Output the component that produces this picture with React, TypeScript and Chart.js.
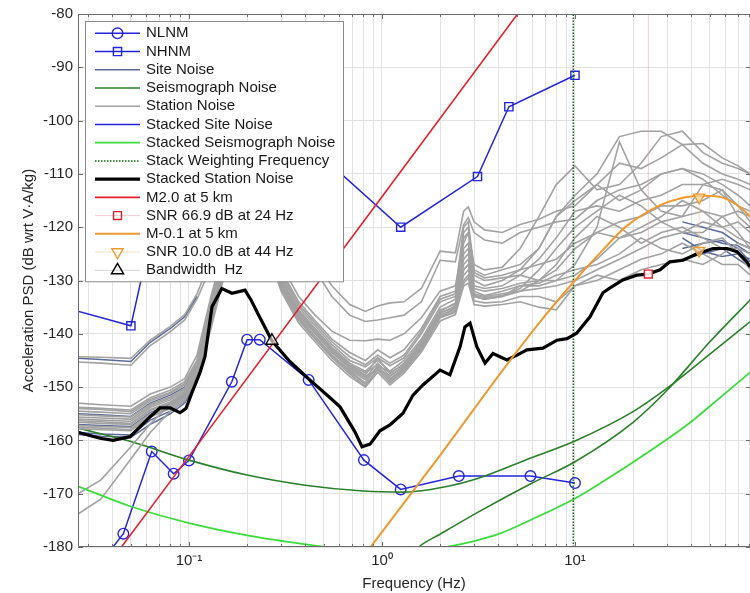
import React, { useEffect, useRef } from 'react';
import { Chart, registerables } from 'chart.js';

Chart.register(...registerables);

const FONT = "'Liberation Sans', Arial, Helvetica, sans-serif";

// ---------------- axis ----------------
const X_MIN = 0.0266;
const X_MAX = 80.7;
const Y_MIN = -180;
const Y_MAX = -80;
const Y_TICKS = [-180, -170, -160, -150, -140, -130, -120, -110, -100, -90, -80];
const X_LABEL_VALUES = [0.1, 1, 10];
const X_LABEL_TEXT = ['10\u207B\u00B9', '10\u2070', '10\u00B9'];

// ---------------- reference models ----------------
const NLNM_FREQ = [10, 5.88, 2.5, 1.25, 0.806, 0.417, 0.2326, 0.2, 0.1667, 0.1, 0.0833, 0.0641, 0.0457, 0.0316];
const NLNM_PSD = [-168.0, -166.7, -166.7, -169.2, -163.7, -148.65, -141.1, -141.1, -149.0, -163.75, -166.25, -162.1, -177.5, -185.0];
const NHNM_FREQ = [10, 4.545, 3.125, 1.25, 0.263, 0.217, 0.159, 0.127, 0.0649, 0.05, 0.00282];
const NHNM_PSD = [-91.5, -97.4, -110.5, -120.0, -98.0, -96.5, -101.0, -113.5, -120.0, -138.5, -126.0];

// ---------------- station noise (grey) ----------------
const STN_FREQ = [0.0266, 0.035, 0.05, 0.063, 0.08, 0.095, 0.11, 0.13, 0.16, 0.2, 0.25, 0.3, 0.37, 0.45, 0.55, 0.68, 0.82, 0.95, 1.1, 1.3, 1.6, 2.0, 2.4, 2.65, 2.8, 3.0, 3.4, 4.2, 5.2, 6.5, 8.0, 10, 13, 17, 22, 28, 36, 46, 58, 70, 81];
const STN_A1 = [-144.3, -144.4, -144.6, -141.2, -138.6, -136.4, -132.5, -126, -117, -111, -114, -119, -123, -126.5, -131, -134.5, -135.8, -134.8, -134.2, -134.0, -131.5, -124.5, -124.8, -117, -116.2, -119, -120.5, -121, -119.5, -118.5, -117, -116, -112, -108, -109, -107, -104.5, -104.3, -107, -108.5, -110];
const STN_A2 = [-145.3, -145.5, -145.9, -142.2, -139.6, -137.4, -133.5, -127.5, -119, -113, -116, -121, -125, -128, -133, -136.5, -137.7, -137.4, -137, -136.5, -134, -126.2, -126.5, -119.5, -118.2, -121, -122.4, -123, -121, -120, -119, -118.5, -115, -113, -112, -110, -109, -110, -112, -114, -116];
const STN_B1 = [-153.0, -153.3, -153.6, -151.3, -150.0, -148.4, -144, -133, -121, -114, -118, -127, -133, -136.5, -139.5, -141.2, -141.3, -141, -141.2, -140, -137, -132, -131, -123, -121, -127, -128, -127.5, -124, -118, -112, -108.5, -113, -112, -108, -103, -102, -106, -108, -109, -110];
const STN_B2 = [-153.8, -154.0, -154.3, -152.0, -150.6, -149.0, -145, -134, -122, -115, -119, -128, -134, -137.5, -141, -143.5, -145, -143, -144.5, -143, -139, -133, -132, -120, -119, -128, -129, -128, -127, -124, -118, -114, -110, -103, -102, -102, -104.5, -108, -110, -111, -112];
const STN_B3 = [-154.5, -154.7, -155.0, -152.6, -151.2, -149.6, -145.5, -135, -122.5, -116, -120, -129, -135, -138.5, -142, -145, -146.2, -144.5, -146, -144.5, -140, -134, -133, -122, -121, -129, -130, -129.5, -129, -130, -130, -127, -120, -104, -113, -117, -118, -112, -113, -118, -120];
const STN_B4 = [-155.2, -155.4, -155.6, -153.2, -151.8, -150.2, -146, -136, -123, -116.5, -120.5, -129.5, -135.5, -139, -142.5, -145.5, -147, -145, -147, -145, -141, -135, -133.5, -124, -123, -130, -131, -130, -128, -124, -118, -115, -112, -115, -113, -110, -109, -111, -114, -116, -117];
const STN_B5 = [-156.0, -156.2, -156.4, -153.8, -152.4, -150.8, -146.5, -137, -124, -117, -121, -130, -136, -139.5, -143, -146, -147.7, -144.5, -147.5, -145.5, -141.5, -135.5, -134.5, -125, -124, -131, -131.5, -131, -129, -126, -122, -117, -116, -117, -115, -114, -112, -112, -111, -112, -113];
const STN_B6 = [-156.6, -156.8, -157.0, -154.4, -153.0, -151.3, -147, -137.5, -124.5, -117.5, -122, -130.5, -136.5, -140, -143.5, -146.5, -148.3, -145.5, -148, -146, -142, -136, -135, -126, -125, -131.5, -132, -131.5, -130.5, -130, -128, -124, -121, -119, -118, -116, -116, -115, -113, -116, -119];
const STN_B7 = [-157.2, -157.4, -157.6, -155.0, -153.5, -151.8, -147.5, -138, -125, -118, -122.5, -131, -137, -140.5, -144, -147, -149.2, -146, -148.7, -146.5, -142.5, -136.5, -135.5, -127, -126, -132, -132.8, -132, -131, -131, -130, -129, -126, -122, -121, -119, -118, -117, -118, -121, -124];
const STN_B8 = [-157.8, -158.0, -158.2, -155.6, -154.0, -152.3, -148, -138.5, -125.5, -118.5, -123, -131.5, -137.5, -141, -144.5, -147.5, -149.9, -146.5, -149.2, -147, -143, -137, -136, -128, -127, -133, -133.5, -133, -132, -130, -127, -122, -118, -120, -123, -121, -120, -122, -124, -124, -125];
const STN_B9 = [-156.3, -156.5, -156.8, -154.2, -152.8, -151.0, -146.8, -137, -124, -117, -121.5, -130, -136, -139.8, -143.3, -146.3, -148.0, -146.8, -147.8, -146.2, -141.8, -136.2, -134.8, -129, -128, -132.5, -133, -132.5, -132, -131.5, -131, -130, -128, -126, -124, -122, -121, -119, -120, -122, -123];
const STN_B10 = [-155.6, -155.8, -156.0, -153.5, -152.1, -150.5, -146.2, -136.5, -123.5, -116.8, -121, -129.8, -135.8, -139.2, -142.8, -145.8, -147.3, -145.8, -147.3, -145.8, -141.3, -135.8, -134.2, -130, -129, -133, -133.5, -133, -131, -130.5, -129, -128, -127, -125, -122, -124, -125, -123, -122, -125, -128];
const STN_B11 = [-154.0, -154.2, -154.6, -152.3, -151.0, -149.3, -145.2, -134.5, -122, -115.5, -119.5, -128.5, -134.5, -138, -141.5, -144.3, -145.8, -144.0, -145.5, -144, -139.5, -133.5, -132.5, -121, -120, -128.5, -129.5, -129, -128, -127, -126, -123, -121, -122, -120, -118, -115, -117, -120, -119, -121];
const STN_B12 = [-157.5, -157.7, -158.0, -155.3, -153.8, -152.0, -147.7, -138.2, -125.2, -118.2, -122.8, -131.2, -137.2, -140.8, -144.2, -147.2, -149.5, -146.8, -149.0, -146.8, -142.8, -136.8, -135.8, -130.5, -129.5, -133.8, -134.2, -134, -133, -133, -134, -131, -130, -128, -126, -125, -123, -125, -127, -127, -129];
const STN_C1 = [-170.0, -167.4, -161.2, -156.9, -153.2, -151.4, -147.2, -137.8, -124.8, -118, -122.5, -131, -136.8, -140.5, -144, -146.8, -148.6, -146.2, -148.4, -146.4, -142.2, -136.6, -135.2, -128, -127, -132.8, -133.2, -132.8, -131.5, -128, -124, -120, -117, -114, -116, -119, -121, -121, -118, -117, -118];
const STN_C2 = [-173.8, -171.0, -163.5, -158.5, -154.5, -152.6, -148.2, -139, -126, -119, -123.5, -132, -138, -141.5, -145, -148, -150.0, -147.2, -149.6, -147.4, -143.4, -137.6, -136.4, -131, -130.5, -134.5, -134.8, -134.5, -134, -135, -135.5, -131, -129, -130, -128, -127, -126, -127, -125, -123, -124];
const STATION_NOISE = [STN_A1, STN_A2, STN_B1, STN_B2, STN_B3, STN_B4, STN_B5, STN_B6, STN_B7, STN_B8, STN_B9, STN_B10, STN_B11, STN_B12, STN_C1, STN_C2];

// ---------------- site noise (visible only where it departs from station noise) ----------------
const SITE_FREQ_LOW = [0.0266, 0.035, 0.05, 0.063, 0.08, 0.095, 0.11];
const SITE_FREQ_HIGH = [36, 46, 58, 70, 81];
const SITE_LOW = [
  [-144.6, -144.8, -145.2, -141.6, -139.0, -136.8, -133.0],
  [-155.0, -155.2, -155.5, -153.0, -151.5, -150.0, -146.0],
  [-157.0, -157.2, -157.4, -154.8, -153.2, -151.5, -147.3],
  [-158.5, -158.8, -159.0, -156.2, -154.5, -152.6, -148.4],
  [-158.9, -159.2, -159.4, -157.0, -155.0, -153.0, -149.0],
];
const SITE_HIGH = [
  [-121, -122, -123, -123.5, -125],
  [-124, -123, -122.5, -124, -126.5],
  [-119, -120, -121, -123, -124],
  [-122, -124.5, -125.5, -125, -126],
  [-126, -125, -124, -126, -127.5],
];

// ---------------- seismograph noise ----------------
const SEIS1_FREQ = [0.0266, 0.05, 0.1, 0.2, 0.4, 0.8, 1.3, 2.2, 3.1, 6, 10, 20, 30, 50, 81];
const SEIS1_PSD = [-157.7, -160.2, -163.7, -166.5, -168.4, -169.5, -169.7, -168.6, -167.2, -163.2, -160.1, -154.6, -150.2, -143.8, -137.7];
const SEIS2_FREQ = [1.3, 1.55, 2, 3.1, 6, 10, 20, 30, 50, 81];
const SEIS2_PSD = [-183.0, -180.0, -177.6, -173.6, -168.0, -164.0, -156.6, -150.6, -141.5, -133.6];
const STACK_SEIS_FREQ = [0.0266, 0.05, 0.1, 0.2, 0.37, 0.7, 1.2, 2.17, 3, 4, 6, 10, 15, 20, 30, 40, 50, 65, 81];
const STACK_SEIS_PSD = [-168.6, -172.4, -175.5, -177.8, -179.3, -180.6, -181.4, -180.0, -178.9, -177.6, -174.8, -170.9, -167.0, -164.1, -159.8, -156.5, -153.6, -150.1, -147.2];

// ---------------- stacked station noise ----------------
const STACK_FREQ = [0.0266, 0.0346, 0.0404, 0.0495, 0.0628, 0.0708, 0.0798, 0.0898, 0.0965, 0.1037, 0.114, 0.121, 0.1316, 0.148, 0.167, 0.195, 0.21, 0.228, 0.269, 0.333, 0.424, 0.538, 0.606, 0.724, 0.788, 0.867, 0.976, 1.10, 1.285, 1.448, 1.63, 2.0, 2.25, 2.54, 2.69, 2.86, 3.10, 3.42, 3.76, 4.44, 5.0, 5.64, 6.82, 8.07, 9.09, 10.2, 11.96, 13.96, 15.2, 17.7, 20.9, 23.9, 27.6, 31.0, 36.3, 42.9, 51.9, 61.4, 69.1, 77.8, 80.7];
const STACK_PSD = [-158.5, -159.6, -160.0, -159.3, -155.6, -153.9, -153.9, -154.8, -154.0, -151.0, -147.3, -144.3, -134.9, -131.5, -132.4, -131.8, -133.7, -136.3, -141.3, -145.2, -148.7, -152.0, -153.7, -158.4, -161.2, -160.7, -158.2, -157.1, -154.9, -151.5, -149.6, -146.8, -147.7, -142.4, -138.7, -138.0, -142.4, -145.5, -143.7, -144.9, -144.0, -143.0, -142.7, -141.2, -140.9, -139.9, -136.8, -132.3, -131.4, -129.9, -129.0, -128.8, -128.0, -126.5, -126.2, -125.0, -124.0, -124.0, -124.6, -126.5, -127.4];

// ---------------- event spectra ----------------
const M20_FREQ = [0.03, 0.1, 1, 6];
const M20_PSD = [-188.4, -163.0, -114.3, -76.3];
const M01_FREQ = [0.8, 2, 4.5, 7, 10, 14, 18.5, 27.5, 35, 44.5, 56, 71.5, 81];
const M01_PSD = [-181.8, -162.8, -145.5, -136.6, -130.0, -124.2, -119.8, -115.9, -114.6, -114.1, -114.3, -116.2, -118.0];
const SNR1_FREQ = [24, 24];
const SNR1_PSD = [-128.8, -61.9];
const SNR2_FREQ = [44, 44];
const SNR2_PSD = [-124.4, -114.4];
const BAND_FREQ = [0.269];
const BAND_PSD = [-141.3];
const WEIGHT_FREQ = [9.8, 9.8];
const WEIGHT_PSD = [-180, -80];

// ---------------- helpers ----------------
const X_GRID_TICKS: number[] = [];
for (let e = -2; e <= 1; e++) {
  for (let m = 1; m <= 9; m++) {
    const v = +(m * Math.pow(10, e)).toPrecision(3);
    if (v >= X_MIN && v <= X_MAX) X_GRID_TICKS.push(v);
  }
}

const pts = (xs: number[], ys: (number | null)[]) => xs.map((x, i) => ({ x, y: ys[i] }));

function lineSet(label: string, data: any[], color: string, width: number, extra: any = {}) {
  return {
    label,
    data,
    borderColor: color,
    backgroundColor: color,
    borderWidth: width,
    showLine: true,
    pointRadius: 0,
    pointHoverRadius: 0,
    tension: 0,
    spanGaps: false,
    ...extra,
  };
}

function drawMarker(ctx: CanvasRenderingContext2D, style: string, x: number, y: number, r: number, rot: number, stroke: string, fill: string, lw: number) {
  ctx.save();
  ctx.translate(x, y);
  ctx.rotate(((rot || 0) * Math.PI) / 180);
  ctx.beginPath();
  if (style === 'circle') {
    ctx.arc(0, 0, r, 0, Math.PI * 2);
  } else if (style === 'rect') {
    const s = r * Math.SQRT1_2;
    ctx.rect(-s, -s, 2 * s, 2 * s);
  } else if (style === 'triangle') {
    let a = 0;
    ctx.moveTo(Math.sin(a) * r, -Math.cos(a) * r);
    a += (2 * Math.PI) / 3;
    ctx.lineTo(Math.sin(a) * r, -Math.cos(a) * r);
    a += (2 * Math.PI) / 3;
    ctx.lineTo(Math.sin(a) * r, -Math.cos(a) * r);
    ctx.closePath();
  }
  ctx.fillStyle = fill;
  ctx.fill();
  ctx.lineWidth = lw;
  ctx.strokeStyle = stroke;
  ctx.stroke();
  ctx.restore();
}

const isDecade = (v: number) => Math.abs(Math.log10(v) - Math.round(Math.log10(v))) < 1e-6;

const framePlugin = {
  id: 'matlabFrame',
  afterDatasetsDraw(chart: any) {
    const { ctx, chartArea: a, scales } = chart;
    ctx.save();
    ctx.strokeStyle = '#6b6b6b';
    ctx.lineWidth = 1;
    ctx.beginPath();
    ctx.moveTo(a.right, a.top + 0.5);
    ctx.lineTo(a.left + 0.5, a.top + 0.5);
    ctx.lineTo(a.left + 0.5, a.bottom - 0.5);
    ctx.lineTo(a.right, a.bottom - 0.5);
    ctx.stroke();
    ctx.beginPath();
    for (const t of scales.x.ticks) {
      const px = Math.round(scales.x.getPixelForValue(t.value)) + 0.5;
      const L = isDecade(t.value) ? 5 : 3;
      ctx.moveTo(px, a.bottom);
      ctx.lineTo(px, a.bottom - L);
      ctx.moveTo(px, a.top);
      ctx.lineTo(px, a.top + L);
    }
    for (const t of scales.y.ticks) {
      const py = Math.round(scales.y.getPixelForValue(t.value)) + 0.5;
      ctx.moveTo(a.left, py);
      ctx.lineTo(a.left + 5, py);
      ctx.moveTo(a.right, py);
      ctx.lineTo(a.right - 4, py);
    }
    ctx.stroke();
    ctx.restore();
  },
};

const legendPlugin = {
  id: 'boxLegend',
  afterDatasetsDraw(chart: any) {
    const { ctx, chartArea } = chart;
    const items = chart.data.datasets.filter((d: any) => d.inLegend);
    const x0 = chartArea.left + 7;
    const y0 = chartArea.top + 7;
    const w = 258;
    const rowH = 18.23;
    const first = 12.3;
    const h = first + rowH * (items.length - 1) + 11;
    ctx.save();
    ctx.fillStyle = '#ffffff';
    ctx.fillRect(x0, y0, w, h);
    ctx.strokeStyle = '#8c8c8c';
    ctx.lineWidth = 1;
    ctx.strokeRect(x0 + 0.5, y0 + 0.5, w, h);
    items.forEach((d: any, i: number) => {
      const cy = y0 + first + i * rowH;
      ctx.save();
      ctx.strokeStyle = d.legendLineColor || d.borderColor;
      ctx.lineWidth = d.borderWidth;
      ctx.setLineDash(d.borderDash || []);
      ctx.beginPath();
      ctx.moveTo(x0 + 10, cy);
      ctx.lineTo(x0 + 55, cy);
      ctx.stroke();
      ctx.restore();
      if (d.pointRadius > 0) {
        drawMarker(ctx, d.pointStyle, x0 + 32.5, cy, d.pointRadius, d.pointRotation || 0, d.pointBorderColor, 'rgba(255,255,255,0)', d.pointBorderWidth);
      }
      ctx.fillStyle = '#1a1a1a';
      ctx.font = `15px ${FONT}`;
      ctx.textBaseline = 'middle';
      ctx.textAlign = 'left';
      ctx.fillText(d.label, x0 + 61, cy);
    });
    ctx.restore();
  },
};

const BLUE = '#2424dc';
const SITE_COLOR = '#5c6a98';
const SEIS_COLOR = '#2b7f2b';
const GREY = '#a2a2a2';

function buildConfig(): any {
  const ds: any[] = [];
  ds.push(lineSet('NLNM', pts(NLNM_FREQ, NLNM_PSD), BLUE, 1.5, {
    inLegend: true, pointRadius: 5.3, pointStyle: 'circle', pointBorderColor: BLUE, pointBackgroundColor: 'rgba(0,0,0,0)', pointBorderWidth: 1.4,
  }));
  ds.push(lineSet('NHNM', pts(NHNM_FREQ, NHNM_PSD), BLUE, 1.5, {
    inLegend: true, pointRadius: 5.8, pointStyle: 'rect', pointBorderColor: BLUE, pointBackgroundColor: 'rgba(0,0,0,0)', pointBorderWidth: 1.4,
  }));
  SITE_LOW.forEach((low, i) => {
    const data = [...pts(SITE_FREQ_LOW, low), { x: 0.12, y: null }, ...pts(SITE_FREQ_HIGH, SITE_HIGH[i])];
    ds.push(lineSet('Site Noise', data, SITE_COLOR, 1.5, { inLegend: i === 0 }));
  });
  ds.push(lineSet('Seismograph Noise', pts(SEIS1_FREQ, SEIS1_PSD), SEIS_COLOR, 1.6, { inLegend: true, cubicInterpolationMode: 'monotone' }));
  ds.push(lineSet('Seismograph Noise', pts(SEIS2_FREQ, SEIS2_PSD), SEIS_COLOR, 1.6, { cubicInterpolationMode: 'monotone' }));
  STATION_NOISE.forEach((arr, i) => {
    ds.push(lineSet('Station Noise', pts(STN_FREQ, arr), GREY, 1.6, { inLegend: i === 0 }));
  });
  ds.push(lineSet('Stacked Site Noise', pts(STACK_FREQ, STACK_PSD), BLUE, 1.5, { inLegend: true }));
  ds.push(lineSet('Stacked Seismograph Noise', pts(STACK_SEIS_FREQ, STACK_SEIS_PSD), '#3ddc3d', 1.8, { inLegend: true, cubicInterpolationMode: 'monotone' }));
  ds.push(lineSet('Stack Weighting Frequency', pts(WEIGHT_FREQ, WEIGHT_PSD), '#0f6a0f', 1.5, { inLegend: true, borderDash: [1.5, 1.5] }));
  ds.push(lineSet('Stacked Station Noise', pts(STACK_FREQ, STACK_PSD), '#000000', 3.2, { inLegend: true }));
  ds.push(lineSet('M2.0 at 5 km', pts(M20_FREQ, M20_PSD), '#e4202c', 1.6, { inLegend: true }));
  ds.push(lineSet('SNR 66.9 dB at 24 Hz', pts(SNR1_FREQ, SNR1_PSD), 'rgba(236,150,165,0.5)', 1, {
    inLegend: true, pointRadius: 5.6, pointStyle: 'rect', pointBorderColor: '#e4202c', pointBackgroundColor: 'rgba(255,255,255,0.9)', pointBorderWidth: 1.4,
  }));
  ds.push(lineSet('M-0.1 at 5 km', pts(M01_FREQ, M01_PSD), '#ee9a30', 2, { inLegend: true, cubicInterpolationMode: 'monotone' }));
  ds.push(lineSet('SNR 10.0 dB at 44 Hz', pts(SNR2_FREQ, SNR2_PSD), 'rgba(245,195,130,0.5)', 1, {
    inLegend: true, pointRadius: 6.5, pointStyle: 'triangle', pointRotation: 180, pointBorderColor: '#ee9a30', pointBackgroundColor: 'rgba(255,215,160,0.7)', pointBorderWidth: 1.4,
  }));
  ds.push(lineSet('Bandwidth  Hz', pts(BAND_FREQ, BAND_PSD), 'rgba(170,170,170,0.5)', 1, {
    inLegend: true, pointRadius: 7, pointStyle: 'triangle', pointBorderColor: '#000000', pointBackgroundColor: 'rgba(255,255,255,0.6)', pointBorderWidth: 1.4,
  }));
  ds.forEach((d, i) => { d.order = ds.length - i; });

  return {
    type: 'scatter',
    data: { datasets: ds },
    options: {
      responsive: false,
      maintainAspectRatio: false,
      animation: false,
      devicePixelRatio: 1,
      events: [],
      layout: { autoPadding: false, padding: { left: 0, right: 0, top: 14, bottom: 0 } },
      plugins: { legend: { display: false }, tooltip: { enabled: false }, title: { display: false } },
      scales: {
        x: {
          type: 'logarithmic',
          min: X_MIN,
          max: X_MAX,
          afterBuildTicks: (s: any) => { s.ticks = X_GRID_TICKS.map((v) => ({ value: v })); },
          afterFit: (s: any) => { s.height = 46; s.paddingLeft = 0; s.paddingRight = 0; },
          grid: { color: '#e2e2e2', lineWidth: 1, drawTicks: false },
          border: { display: false },
          ticks: {
            autoSkip: false, maxRotation: 0, minRotation: 0, padding: 5, color: '#262626',
            font: { family: FONT, size: 15 },
            callback: (v: number) => {
              const i = X_LABEL_VALUES.findIndex((lv) => Math.abs(lv - v) / lv < 1e-6);
              return i >= 0 ? X_LABEL_TEXT[i] : '';
            },
          },
          title: { display: true, text: 'Frequency (Hz)', color: '#262626', font: { family: FONT, size: 15 }, padding: { top: 0, bottom: 0 } },
        },
        y: {
          type: 'linear',
          min: Y_MIN,
          max: Y_MAX,
          afterBuildTicks: (s: any) => { s.ticks = Y_TICKS.map((v) => ({ value: v })); },
          afterFit: (s: any) => { s.width = 78; s.paddingTop = 0; s.paddingBottom = 0; },
          grid: { color: '#e2e2e2', lineWidth: 1, drawTicks: false },
          border: { display: false },
          ticks: { padding: 5, color: '#262626', font: { family: FONT, size: 15 }, callback: (v: number) => String(v) },
          title: { display: true, text: 'Acceleration PSD (dB wrt V\u00B7A/kg)', color: '#262626', font: { family: FONT, size: 15 }, padding: { top: 20, bottom: 0 } },
        },
      },
    },
    plugins: [framePlugin, legendPlugin],
  };
}

export default function App() {
  const canvasRef = useRef<HTMLCanvasElement | null>(null);
  useEffect(() => {
    const canvas = canvasRef.current;
    if (!canvas) return;
    const chart = new Chart(canvas, buildConfig());
    return () => chart.destroy();
  }, []);
  return (
    <div style={{ position: 'fixed', left: 0, top: 0, width: 750, height: 593, overflow: 'hidden', background: '#ffffff' }}>
      <canvas ref={canvasRef} width={750} height={593} style={{ display: 'block', width: '750px', height: '593px' }} />
    </div>
  );
}
